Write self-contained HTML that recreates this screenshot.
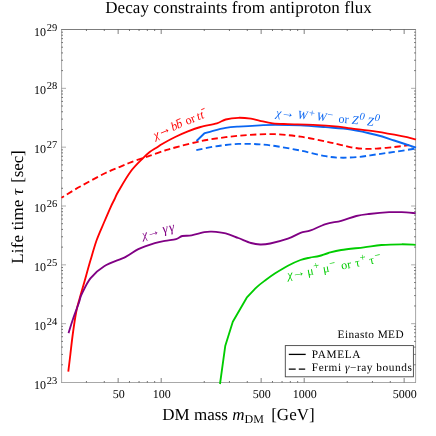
<!DOCTYPE html>
<html><head><meta charset="utf-8">
<style>
html,body{margin:0;padding:0;background:#fff;}
svg{display:block;will-change:transform;}
text{font-family:"Liberation Serif",serif;text-rendering:geometricPrecision;}
.i{font-style:italic;}
</style></head><body>
<svg width="436" height="436" viewBox="0 0 436 436">
<rect width="436" height="436" fill="#fff"/>

<g stroke="#505050" fill="none">
<path d="M61.20 29.50H415.90" stroke-width="0.75"/>
<path d="M61.20 382.50H415.90" stroke-width="0.5"/>
<path d="M61.60 29.50V382.50" stroke-width="0.5"/>
<path d="M415.60 29.50V382.50" stroke-width="0.6" stroke="#6a6a6a"/>
</g>
<path d="M61.50 323.67h4.50M415.60 323.67h-4.50M61.50 264.83h4.50M415.60 264.83h-4.50M61.50 206.00h4.50M415.60 206.00h-4.50M61.50 147.17h4.50M415.60 147.17h-4.50M61.50 88.33h4.50M415.60 88.33h-4.50" stroke="#808080" stroke-width="0.65" fill="none"/>
<path d="M118.15 382.50v-4.50M118.15 29.50v4.50M161.20 382.50v-4.50M161.20 29.50v4.50M261.15 382.50v-4.50M261.15 29.50v4.50M304.20 382.50v-4.50M304.20 29.50v4.50M404.15 382.50v-4.50M404.15 29.50v4.50" stroke="#484848" stroke-width="0.7" fill="none"/>
<path d="M61.50 364.79h1.45M415.60 364.79h-1.45M61.50 354.43h1.45M415.60 354.43h-1.45M61.50 347.08h1.45M415.60 347.08h-1.45M61.50 341.38h1.45M415.60 341.38h-1.45M61.50 336.72h1.45M415.60 336.72h-1.45M61.50 332.78h1.45M415.60 332.78h-1.45M61.50 329.37h1.45M415.60 329.37h-1.45M61.50 326.36h1.45M415.60 326.36h-1.45M61.50 305.96h1.45M415.60 305.96h-1.45M61.50 295.60h1.45M415.60 295.60h-1.45M61.50 288.25h1.45M415.60 288.25h-1.45M61.50 282.54h1.45M415.60 282.54h-1.45M61.50 277.89h1.45M415.60 277.89h-1.45M61.50 273.95h1.45M415.60 273.95h-1.45M61.50 270.53h1.45M415.60 270.53h-1.45M61.50 267.53h1.45M415.60 267.53h-1.45M61.50 247.12h1.45M415.60 247.12h-1.45M61.50 236.76h1.45M415.60 236.76h-1.45M61.50 229.41h1.45M415.60 229.41h-1.45M61.50 223.71h1.45M415.60 223.71h-1.45M61.50 219.05h1.45M415.60 219.05h-1.45M61.50 215.11h1.45M415.60 215.11h-1.45M61.50 211.70h1.45M415.60 211.70h-1.45M61.50 208.69h1.45M415.60 208.69h-1.45M61.50 188.29h1.45M415.60 188.29h-1.45M61.50 177.93h1.45M415.60 177.93h-1.45M61.50 170.58h1.45M415.60 170.58h-1.45M61.50 164.88h1.45M415.60 164.88h-1.45M61.50 160.22h1.45M415.60 160.22h-1.45M61.50 156.28h1.45M415.60 156.28h-1.45M61.50 152.87h1.45M415.60 152.87h-1.45M61.50 149.86h1.45M415.60 149.86h-1.45M61.50 129.46h1.45M415.60 129.46h-1.45M61.50 119.10h1.45M415.60 119.10h-1.45M61.50 111.75h1.45M415.60 111.75h-1.45M61.50 106.04h1.45M415.60 106.04h-1.45M61.50 101.39h1.45M415.60 101.39h-1.45M61.50 97.45h1.45M415.60 97.45h-1.45M61.50 94.03h1.45M415.60 94.03h-1.45M61.50 91.03h1.45M415.60 91.03h-1.45M61.50 70.62h1.45M415.60 70.62h-1.45M61.50 60.26h1.45M415.60 60.26h-1.45M61.50 52.91h1.45M415.60 52.91h-1.45M61.50 47.21h1.45M415.60 47.21h-1.45M61.50 42.55h1.45M415.60 42.55h-1.45M61.50 38.61h1.45M415.60 38.61h-1.45M61.50 35.20h1.45M415.60 35.20h-1.45M61.50 32.19h1.45M415.60 32.19h-1.45M86.43 382.50v-1.45M86.43 29.50v1.45M104.29 382.50v-1.45M104.29 29.50v1.45M129.48 382.50v-1.45M129.48 29.50v1.45M139.05 382.50v-1.45M139.05 29.50v1.45M147.34 382.50v-1.45M147.34 29.50v1.45M154.66 382.50v-1.45M154.66 29.50v1.45M204.25 382.50v-1.45M204.25 29.50v1.45M229.43 382.50v-1.45M229.43 29.50v1.45M247.29 382.50v-1.45M247.29 29.50v1.45M272.48 382.50v-1.45M272.48 29.50v1.45M282.05 382.50v-1.45M282.05 29.50v1.45M290.34 382.50v-1.45M290.34 29.50v1.45M297.66 382.50v-1.45M297.66 29.50v1.45M347.25 382.50v-1.45M347.25 29.50v1.45M372.43 382.50v-1.45M372.43 29.50v1.45M390.29 382.50v-1.45M390.29 29.50v1.45" stroke="#444" stroke-width="0.8" fill="none"/>
<g fill="none" stroke-width="1.85" stroke-linejoin="round">
<path d="M61.50 197.70 C64.62 195.83 72.87 190.62 80.20 186.50 C87.53 182.38 98.87 176.28 105.50 173.00 C112.13 169.72 115.80 168.58 120.00 166.80 C124.20 165.02 126.82 163.77 130.70 162.30 C134.58 160.83 140.08 159.12 143.30 158.00 C146.52 156.88 146.38 156.85 150.00 155.60 C153.62 154.35 160.80 151.85 165.00 150.50 C169.20 149.15 169.28 149.05 175.20 147.50 C181.12 145.95 192.08 142.92 200.50 141.20 C208.92 139.48 217.45 138.25 225.70 137.20 C233.95 136.15 241.75 135.40 250.00 134.90 C258.25 134.40 266.78 133.90 275.20 134.20 C283.62 134.50 292.08 135.48 300.50 136.70 C308.92 137.92 319.35 140.23 325.70 141.50 C332.05 142.77 334.35 143.33 338.60 144.30 C342.85 145.27 346.98 146.55 351.20 147.30 C355.42 148.05 359.68 148.58 363.90 148.80 C368.12 149.02 371.45 148.90 376.50 148.60 C381.55 148.30 388.75 147.57 394.20 147.00 C399.65 146.43 406.70 145.50 409.20 145.20" stroke="#ff0000" stroke-dasharray="6.35 3.37" stroke-dashoffset="3.3"/>
<path d="M196.30 150.20 C199.08 149.63 208.10 147.67 213.00 146.80 C217.90 145.93 221.48 145.48 225.70 145.00 C229.92 144.52 234.25 144.08 238.30 143.90 C242.35 143.72 246.38 143.82 250.00 143.90 C253.62 143.98 255.80 144.05 260.00 144.40 C264.20 144.75 268.45 144.97 275.20 146.00 C281.95 147.03 292.08 148.90 300.50 150.60 C308.92 152.30 318.97 155.02 325.70 156.20 C332.43 157.38 335.38 157.58 340.90 157.70 C346.42 157.82 352.87 157.45 358.80 156.90 C364.73 156.35 370.60 155.23 376.50 154.40 C382.40 153.57 387.68 152.87 394.20 151.90 C400.72 150.93 412.03 149.15 415.60 148.60" stroke="#0a66f2" stroke-dasharray="6.35 3.37"/>
<path d="M220.00 384.00L225.30 345.70L232.80 321.70L246.70 297.70 C248.38 295.93 253.63 290.05 256.80 287.10 C259.97 284.15 262.63 282.30 265.70 280.00 C268.77 277.70 271.50 275.68 275.20 273.30 C278.90 270.92 283.68 267.92 287.90 265.70 C292.12 263.48 296.82 261.35 300.50 260.00 C304.18 258.65 306.88 258.27 310.00 257.60 C313.12 256.93 316.13 256.77 319.20 256.00 C322.27 255.23 324.73 254.00 328.40 253.00 C332.07 252.00 335.28 250.95 341.20 250.00 C347.12 249.05 357.18 248.13 363.90 247.30 C370.62 246.47 375.20 245.50 381.50 245.00 C387.80 244.50 396.02 244.33 401.70 244.30 C407.38 244.27 413.28 244.72 415.60 244.80" stroke="#00cc00"/>
<path d="M196.50 141.00L204.20 133.50 C205.67 133.05 209.42 131.73 213.00 130.80 C216.58 129.87 221.48 128.60 225.70 127.90 C229.92 127.20 232.58 127.03 238.30 126.60 C244.02 126.17 253.85 125.60 260.00 125.30 C266.15 125.00 268.45 124.80 275.20 124.80 C281.95 124.80 292.08 124.90 300.50 125.30 C308.92 125.70 317.28 126.50 325.70 127.20 C334.12 127.90 342.53 128.20 351.00 129.50 C359.47 130.80 369.30 133.17 376.50 135.00 C383.70 136.83 387.62 138.38 394.20 140.50 C400.78 142.62 412.37 146.50 416.00 147.70" stroke="#0a66f2"/>
<path d="M68.30 371.70 C68.63 368.92 69.55 361.28 70.30 355.00 C71.05 348.72 71.82 341.17 72.80 334.00 C73.78 326.83 75.08 317.83 76.20 312.00 C77.32 306.17 78.20 303.78 79.50 299.00 C80.80 294.22 82.18 289.70 84.00 283.30 C85.82 276.90 88.28 267.82 90.40 260.60 C92.52 253.38 94.43 246.35 96.70 240.00 C98.97 233.65 101.65 228.03 104.00 222.50 C106.35 216.97 109.07 210.63 110.80 206.80 C112.53 202.97 113.15 202.05 114.40 199.50 C115.65 196.95 115.58 196.17 118.30 191.50 C121.02 186.83 126.53 177.10 130.70 171.50 C134.87 165.90 140.08 161.18 143.30 157.90 C146.52 154.62 147.88 153.45 150.00 151.80 C152.12 150.15 153.90 149.35 156.00 148.00 C158.10 146.65 159.40 145.53 162.60 143.70 C165.80 141.87 170.98 139.05 175.20 137.00 C179.42 134.95 183.68 133.07 187.90 131.40 C192.12 129.73 195.67 128.35 200.50 127.00 C205.33 125.65 212.70 124.55 216.90 123.30 C221.10 122.05 222.13 120.42 225.70 119.50 C229.27 118.58 234.10 117.93 238.30 117.80 C242.50 117.67 247.28 118.20 250.90 118.70 C254.52 119.20 256.37 120.03 260.00 120.80 C263.63 121.57 268.05 122.75 272.70 123.30 C277.35 123.85 281.17 123.85 287.90 124.10 C294.63 124.35 304.70 124.38 313.10 124.80 C321.50 125.22 331.98 126.00 338.30 126.60 C344.62 127.20 344.63 127.55 351.00 128.40 C357.37 129.25 368.05 130.40 376.50 131.70 C384.95 133.00 395.12 134.92 401.70 136.20 C408.28 137.48 413.62 138.87 416.00 139.40" stroke="#ff0000"/>
<path d="M68.50 333.10 C69.25 330.75 71.27 324.05 73.00 319.00 C74.73 313.95 77.48 306.85 78.90 302.80 C80.32 298.75 79.58 298.78 81.50 294.70 C83.42 290.62 86.62 283.05 90.40 278.30 C94.18 273.55 98.32 269.78 104.20 266.20 C110.08 262.62 120.02 259.63 125.70 256.80 C131.38 253.97 133.45 251.47 138.30 249.20 C143.15 246.93 150.35 244.60 154.80 243.20 C159.25 241.80 161.45 241.48 165.00 240.80 C168.55 240.12 173.22 239.90 176.10 239.10 C178.98 238.30 179.72 236.62 182.30 236.00 C184.88 235.38 187.93 236.03 191.60 235.40 C195.27 234.77 200.93 232.82 204.30 232.20 C207.67 231.58 208.23 231.50 211.80 231.70 C215.37 231.90 221.28 232.35 225.70 233.40 C230.12 234.45 234.08 236.40 238.30 238.00 C242.52 239.60 247.37 241.92 251.00 243.00 C254.63 244.08 256.90 244.42 260.10 244.50 C263.30 244.58 265.57 244.47 270.20 243.50 C274.83 242.53 282.85 240.47 287.90 238.70 C292.95 236.93 296.72 234.28 300.50 232.90 C304.28 231.52 306.40 231.87 310.60 230.40 C314.80 228.93 320.60 225.70 325.70 224.10 C330.80 222.50 336.10 222.15 341.20 220.80 C346.30 219.45 351.68 217.13 356.30 216.00 C360.92 214.87 363.43 214.63 368.90 214.00 C374.37 213.37 383.63 212.50 389.10 212.20 C394.57 211.90 397.28 212.03 401.70 212.20 C406.12 212.37 413.28 213.03 415.60 213.20" stroke="#800084"/>
</g>
<text x="238.5" y="13.4" font-size="17" text-anchor="middle" fill="#000" textLength="266.5">Decay constraints from antiproton flux</text>
<text x="162.3" y="420.4" font-size="17" fill="#000">DM mass <tspan class="i">m</tspan><tspan font-size="12" dy="3">DM</tspan></text>
<text x="271.2" y="420.4" font-size="17" fill="#000">[GeV]</text>
<g transform="translate(23 263.8) rotate(-90)" font-size="17" fill="#000"><text x="0" y="0" textLength="64.2">Life time</text><text x="68.8" y="0" class="i">τ</text><text x="81.1" y="0" textLength="32.4">[sec]</text></g>
<text x="33.9" y="388.50" font-size="12" fill="#000">10<tspan font-size="10.5" dy="-4.9" dx="0.9">23</tspan></text>
<text x="33.9" y="329.67" font-size="12" fill="#000">10<tspan font-size="10.5" dy="-4.9" dx="0.9">24</tspan></text>
<text x="33.9" y="270.83" font-size="12" fill="#000">10<tspan font-size="10.5" dy="-4.9" dx="0.9">25</tspan></text>
<text x="33.9" y="212.00" font-size="12" fill="#000">10<tspan font-size="10.5" dy="-4.9" dx="0.9">26</tspan></text>
<text x="33.9" y="153.17" font-size="12" fill="#000">10<tspan font-size="10.5" dy="-4.9" dx="0.9">27</tspan></text>
<text x="33.9" y="94.33" font-size="12" fill="#000">10<tspan font-size="10.5" dy="-4.9" dx="0.9">28</tspan></text>
<text x="33.9" y="35.50" font-size="12" fill="#000">10<tspan font-size="10.5" dy="-4.9" dx="0.9">29</tspan></text>
<text x="118.75" y="397.6" font-size="12" fill="#000" text-anchor="middle">50</text>
<text x="161.80" y="397.6" font-size="12" fill="#000" text-anchor="middle">100</text>
<text x="261.75" y="397.6" font-size="12" fill="#000" text-anchor="middle">500</text>
<text x="304.80" y="397.6" font-size="12" fill="#000" text-anchor="middle">1000</text>
<text x="404.75" y="397.6" font-size="12" fill="#000" text-anchor="middle">5000</text>
<rect x="285.3" y="345.6" width="128.1" height="31.2" fill="#fff" stroke="#444" stroke-width="0.9"/>
<path d="M288.8 354.4H305.7" stroke="#000" stroke-width="1.3"/>
<path d="M288.8 369.2H305.2" stroke="#000" stroke-width="1.3" stroke-dasharray="6.9 3.1"/>
<text x="311.8" y="358" font-size="11.3" fill="#000" textLength="48.6">PAMELA</text>
<text x="311.8" y="371.3" font-size="11.3" fill="#000" textLength="100">Fermi <tspan class="i">γ</tspan>−ray bounds</text>
<text x="337.6" y="337.7" font-size="11.3" fill="#000" textLength="66">Einasto MED</text>
<g transform="translate(155.00 138.30) rotate(-22.50)" fill="#ff0000"><text x="0.00" y="0.90" font-size="12" class="i">χ</text><text x="4.74" y="-0.30" font-size="13.5" class="i">→</text><text x="19.15" y="0.00" font-size="12" class="i">b</text><text x="24.75" y="0.00" font-size="12" class="i">b</text><text x="34.54" y="0.00" font-size="12">or</text><text x="46.87" y="0.00" font-size="12" class="i">t</text><text x="50.67" y="0.00" font-size="12" class="i">t</text><path d="M26.60 -8.50H31.00" stroke="#ff0000" stroke-width="0.8" fill="none"/><path d="M53.60 -8.70H57.20" stroke="#ff0000" stroke-width="0.8" fill="none"/></g>
<g transform="translate(275.80 116.40) rotate(5.50)" fill="#0a66f2"><text x="0.00" y="0.00" font-size="12" class="i">χ</text><text x="4.84" y="-0.30" font-size="13.5" class="i">→</text><text x="21.51" y="0.00" font-size="12" class="i">W</text><text x="32.78" y="-3.20" font-size="10.5">+</text><text x="40.71" y="0.00" font-size="12" class="i">W</text><text x="51.08" y="-3.20" font-size="10.5">−</text><text x="62.84" y="0.00" font-size="12">or</text><text x="76.15" y="0.00" font-size="12" class="i">Z</text><text x="83.39" y="-5.00" font-size="10.5" class="i">0</text><text x="91.45" y="0.00" font-size="12" class="i">Z</text><text x="98.59" y="-5.00" font-size="10.5" class="i">0</text></g>
<g transform="translate(143.10 239.00) rotate(-14.00)" fill="#800084"><text x="0.00" y="0.00" font-size="12" class="i">χ</text><text x="4.54" y="-0.40" font-size="13.5" class="i">→</text><text x="21.26" y="-0.40" font-size="13.5" class="i">γ</text><text x="27.76" y="-0.40" font-size="13.5" class="i">γ</text></g>
<g transform="translate(288.10 279.00) rotate(-10.00)" fill="#00cc00"><text x="0.00" y="0.00" font-size="12" class="i">χ</text><text x="4.64" y="-0.40" font-size="13.5" class="i">→</text><text x="19.83" y="0.00" font-size="12">μ</text><text x="26.98" y="-4.80" font-size="10.5">+</text><text x="36.03" y="0.00" font-size="12">μ</text><text x="43.08" y="-4.60" font-size="10.5">−</text><text x="54.54" y="0.00" font-size="12">or</text><text x="68.74" y="0.00" font-size="12">τ</text><text x="74.28" y="-5.00" font-size="10.5">+</text><text x="83.24" y="0.00" font-size="12">τ</text><text x="88.98" y="-4.60" font-size="10.5">−</text></g>
</svg></body></html>
